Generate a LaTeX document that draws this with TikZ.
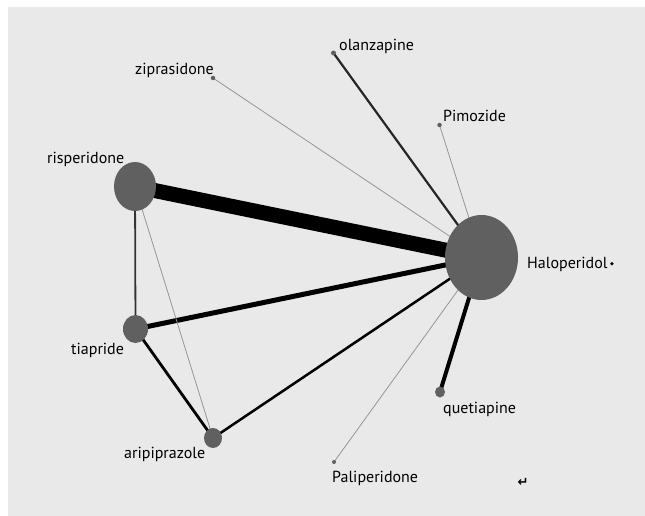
\documentclass[tikz,border=0pt]{standalone}
\usepackage{fontspec}
\setmainfont{PT Sans}
\newfontfamily\symfont{DejaVu Sans}
\usetikzlibrary{shapes,positioning}

\definecolor{bggray}{RGB}{233,233,233}
\definecolor{nodegray}{RGB}{96,96,96}
\definecolor{linegray}{RGB}{150,150,150}

\pgfdeclarelayer{background}
\pgfsetlayers{background,main}

\tikzset{
	drug/.style={ellipse, fill=nodegray, inner sep=0pt},
	smalldot/.style={circle, fill=nodegray, inner sep=0pt, minimum size=#1},
	lbl/.style={anchor=base west, inner sep=0pt, font=\fontsize{16}{18}\selectfont},
	weak/.style={linegray, line width=0.8pt},
	strong/.style={black, line width=#1},
}

\begin{document}
\begin{tikzpicture}[x=1pt,y=-1pt]
			\useasboundingbox (0,0) rectangle (645,516);
			
			% treatments
			\node[drug, minimum width=73pt, minimum height=85pt] (halo) at (481.5,257.5) {};
			\node[drug, minimum width=42pt, minimum height=49pt] (risp) at (135,186.5) {};
			\node[drug, minimum width=25pt, minimum height=28pt] (tiap) at (135.5,329) {};
			\node[drug, minimum width=18pt, minimum height=20pt] (arip) at (213,438) {};
			\node[drug, minimum width=10pt, minimum height=11pt] (quet) at (440,392) {};
			\node[smalldot=5pt] (olan) at (333.5,53) {};
			\node[smalldot=4.5pt] (zipr) at (213,78) {};
			\node[smalldot=4.5pt] (pimo) at (439.5,125) {};
			\node[smalldot=4pt] (pali) at (334,462) {};
			
			% labels
			\node[lbl] (l-halo) at (527,268) {Haloperidol};
			\node[lbl] (l-risp) at (47,163) {risperidone};
			\node[lbl] (l-tiap) at (71,354) {tiapride};
			\node[lbl] (l-arip) at (124,458) {aripiprazole};
			\node[lbl] (l-quet) at (443,413) {quetiapine};
			\node[lbl] (l-olan) at (339,51) {olanzapine};
			\node[lbl] (l-zipr) at (135,75) {ziprasidone};
			\node[lbl] (l-pimo) at (443,122) {Pimozide};
			\node[lbl] (l-pali) at (332,482) {Paliperidone};
			\node[inner sep=0pt, font=\symfont\fontsize{5}{6}\selectfont] (mark) at (612,264) {◆};
			\node[inner sep=0pt, font=\symfont\bfseries\fontsize{13}{15}\selectfont] (ret) at (523,482) {↵};
			
			\begin{pgfonlayer}{background}
			\fill[bggray] (8,7) rectangle (645,516);
			
			\draw[strong=15pt] (risp.center) -- (halo.center);
			\draw[strong=5pt] (tiap.center) -- (halo.center);
			\draw[strong=4pt] (quet.center) -- (halo.center);
			\draw[strong=2.5pt] (arip.center) -- (halo.center);
			\draw[strong=2.8pt] (tiap.center) -- (arip.center);
			\draw[strong=2.2pt, black!85] (olan.center) -- (halo.center);
			\draw[strong=1.8pt, black!80] (risp.center) -- (tiap.center);
			\draw[weak] (risp.center) -- (arip.center);
			\draw[weak] (zipr.center) -- (halo.center);
			\draw[weak] (pimo.center) -- (halo.center);
			\draw[weak] (pali.center) -- (halo.center);
			\end{pgfonlayer}
\end{tikzpicture}
\end{document}
